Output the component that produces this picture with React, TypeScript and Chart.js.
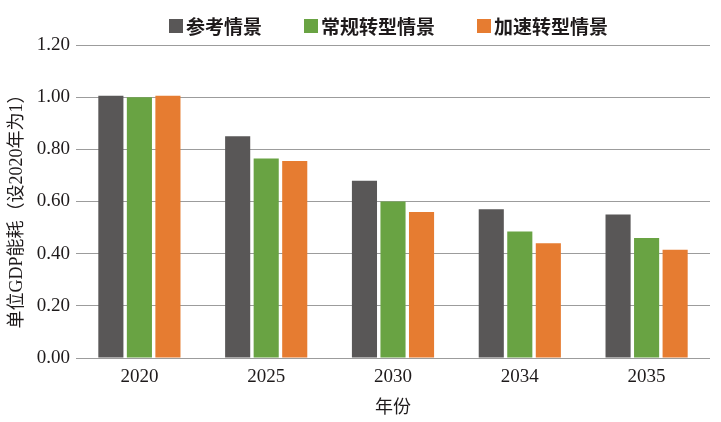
import React, { useEffect, useRef } from "react";
import { Chart, registerables } from "chart.js";

Chart.register(...registerables);

const categories = ["2020", "2025", "2030", "2034", "2035"];
const seriesNames = ["参考情景", "常规转型情景", "加速转型情景"];
const referenceValues = [1.005, 0.85, 0.68, 0.57, 0.55];
const conventionalValues = [1.0, 0.765, 0.6, 0.485, 0.46];
const acceleratedValues = [1.005, 0.755, 0.56, 0.44, 0.415];
const yTitle = "单位GDP能耗（设2020年为1）";
const xTitle = "年份";

const colors = ["#595757", "#69a343", "#e67c31"];
const textColor = "#1e1a1b";
const serif = '"Liberation Serif", "Noto Sans CJK SC", serif';

const customPlugin = {
  id: "customLegendTitle",
  afterDraw(chart: any) {
    const ctx = chart.ctx;
    const area = chart.chartArea;
    ctx.save();
    // legend
    ctx.font = 'bold 19px "Noto Sans CJK SC", sans-serif';
    ctx.textBaseline = "middle";
    ctx.textAlign = "left";
    const box = 14;
    const gapText = 3;
    const gapItem = 42;
    const widths = seriesNames.map((n) => ctx.measureText(n).width);
    const total =
      widths.reduce((a, b) => a + b, 0) +
      seriesNames.length * (box + gapText) +
      (seriesNames.length - 1) * gapItem;
    let x = (area.left + area.right) / 2 - 4.5 - total / 2;
    const cy = 26;
    seriesNames.forEach((n, i) => {
      ctx.fillStyle = colors[i];
      ctx.fillRect(x, cy - box / 2, box, box);
      x += box + gapText;
      ctx.fillStyle = textColor;
      ctx.fillText(n, x, cy + 1);
      x += widths[i] + gapItem;
    });
    // y title
    ctx.translate(17.5, 207);
    ctx.rotate(-Math.PI / 2);
    ctx.font = "18px " + serif;
    ctx.textAlign = "center";
    ctx.fillStyle = textColor;
    ctx.fillText(yTitle, 0, 0);
    ctx.restore();
  },
};

export default function App() {
  const ref = useRef<HTMLCanvasElement>(null);
  useEffect(() => {
    document.body.style.margin = "0";
    const chart = new Chart(ref.current as HTMLCanvasElement, {
      type: "bar",
      data: {
        labels: categories,
        datasets: [
          { label: seriesNames[0], data: referenceValues, backgroundColor: colors[0] },
          { label: seriesNames[1], data: conventionalValues, backgroundColor: colors[1] },
          { label: seriesNames[2], data: acceleratedValues, backgroundColor: colors[2] },
        ],
      },
      options: {
        animation: false,
        responsive: false,
        devicePixelRatio: 1,
        datasets: { bar: { categoryPercentage: 0.675, barPercentage: 0.88 } },
        layout: { padding: { top: 45, right: 11, left: 0, bottom: 0 } },
        plugins: { legend: { display: false }, tooltip: { enabled: false } },
        scales: {
          x: {
            grid: { display: false, drawTicks: false },
            border: { display: false },
            ticks: { color: textColor, font: { family: serif, size: 19 }, padding: 8 },
            title: {
              display: true,
              text: xTitle,
              color: textColor,
              font: { family: serif, size: 18 },
              padding: { top: 0, bottom: 3 },
            },
            afterFit(scale: any) {
              scale.height = 64;
            },
          },
          y: {
            min: 0,
            max: 1.2,
            grid: { color: "#9c9c9c", lineWidth: 1, drawTicks: false },
            border: { display: false },
            ticks: {
              stepSize: 0.2,
              padding: 6,
              color: textColor,
              font: { family: serif, size: 19 },
              callback: (v: any) => Number(v).toFixed(2),
            },
            afterFit(scale: any) {
              scale.width = 76;
            },
          },
        },
      },
      plugins: [customPlugin],
    } as any);
    return () => chart.destroy();
  }, []);
  return (
    <div style={{ width: 721, height: 422 }}>
      <canvas ref={ref} width={721} height={422} />
    </div>
  );
}
